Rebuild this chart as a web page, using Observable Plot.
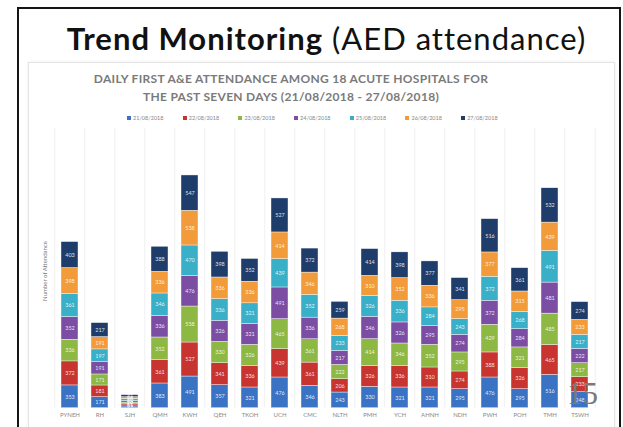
<!DOCTYPE html>
<html>
<head>
<meta charset="utf-8">
<script src="https://cdn.jsdelivr.net/npm/d3@7"></script>
<script src="https://cdn.jsdelivr.net/npm/@observablehq/plot@0.6"></script>
<style>
  html, body { margin: 0; padding: 0; background: #fff; }
  #slide { position: relative; width: 623px; height: 427px; overflow: hidden; background: #fff; font-family: Lato, "Open Sans", sans-serif; }
  #frame { position: absolute; left: 17px; top: 7px; width: 600px; height: 500px; border: 2px solid #151515; }
  #box { position: absolute; left: 28px; top: 62px; width: 585px; height: 420px; border: 1px solid #e4e4e4; box-shadow: 0 0 3px rgba(0,0,0,0.08); }
  #title { position: absolute; left: 0; width: 653px; top: 19px; text-align: center; font-size: 31px; letter-spacing: 1px; color: #111; white-space: nowrap; }
  #title b { font-weight: 700; }
  .ctitle { position: absolute; left: 0; width: 582px; text-align: center; font-size: 12px; font-weight: 700; color: #7a7a7a; letter-spacing: 0.3px; white-space: nowrap; }
  #legend { position: absolute; top: 115px; left: 127px; display: flex; gap: 0; font-size: 5.5px; color: #888; }
  #legend .item { width: 55.7px; display: flex; align-items: center; white-space: nowrap; }
  #legend .sw { width: 4px; height: 4px; margin-right: 2px; }
  #ytitle { position: absolute; left: 44px; top: 271px; transform: translate(-50%, -50%) rotate(-90deg); font-size: 6px; color: #777; white-space: nowrap; }
  #pageno { position: absolute; left: 567px; top: 376px; font-family: "Liberation Serif", serif; font-size: 31px; color: #7a7a7a; }
  #chart { position: absolute; left: 0; top: 0; }
</style>
</head>
<body>
<div id="slide">
  <div id="frame"></div>
  <div id="box"></div>
  <div id="chart"></div>
  <div id="title"><b>Trend Monitoring</b> (AED attendance)</div>
  <div class="ctitle" style="top:71px">DAILY FIRST A&amp;E ATTENDANCE AMONG 18 ACUTE HOSPITALS FOR</div>
  <div class="ctitle" style="top:89px">THE PAST SEVEN DAYS (21/08/2018 - 27/08/2018)</div>
  <div id="legend"></div>
  <div id="ytitle">Number of Attendance</div>
  <div id="pageno">15</div>
</div>
<script>
// Hospitals with an A&E department, in cluster order
const hospitals = ["PYNEH","RH","SJH","QMH","KWH","QEH","TKOH","UCH","CMC","NLTH","PMH","YCH","AHNH","NDH","PWH","POH","TMH","TSWH"];

// Reporting days
const dates = ["21/08/2018","22/08/2018","23/08/2018","24/08/2018","25/08/2018","26/08/2018","27/08/2018"];

// Daily first attendance per hospital, one array per day
const day21 = [353,171,27,383,491,357,321,476,346,243,330,321,321,295,476,295,516,248];
const day22 = [372,181,31,361,527,341,336,439,361,206,326,336,310,274,388,326,465,233];
const day23 = [336,171,29,352,558,330,326,465,361,222,414,346,352,295,429,321,485,217];
const day24 = [352,191,26,336,476,326,321,491,336,217,346,326,295,274,372,284,481,222];
const day25 = [361,197,30,346,470,336,321,439,352,233,326,336,284,243,372,268,491,217];
const day26 = [398,191,28,336,538,336,336,414,346,268,310,352,336,295,377,315,439,233];
const day27 = [403,217,31,388,547,398,352,527,372,259,414,398,377,341,516,361,532,274];

const series = [day21, day22, day23, day24, day25, day26, day27];
const colors = ["#3b73c4","#c8342f","#8db843","#7b4ea3","#3aafc8","#f29b3a","#1f3d6b"];

const rows = [];
dates.forEach((date, i) => {
  hospitals.forEach((h, j) => rows.push({hospital: h, date, value: series[i][j]}));
});

// Legend
const legend = document.getElementById("legend");
dates.forEach((d, i) => {
  const item = document.createElement("div");
  item.className = "item";
  item.innerHTML = `<span class="sw" style="background:${colors[i]}"></span>${d}`;
  legend.appendChild(item);
});

const W = 623, H = 427;
const mLeft = 50, mRight = 25, mTop = 128, mBottom = 19.3;
const yMax = 4335;

// Band geometry, used to put the separators between categories
const band = d3.scaleBand().domain(hospitals).range([mLeft, W - mRight]).paddingInner(0.44).paddingOuter(0.22);
const step = band.step();

const plot = Plot.plot({
  width: W,
  height: H,
  marginLeft: mLeft,
  marginRight: mRight,
  marginTop: mTop,
  marginBottom: mBottom,
  style: {background: "transparent", fontFamily: "Lato, sans-serif"},
  x: {domain: hospitals, paddingInner: 0.44, paddingOuter: 0.22, label: null, tickSize: 0, tickPadding: 5},
  y: {domain: [0, yMax], axis: null},
  color: {domain: dates, range: colors},
  marks: [
    Plot.ruleX(hospitals, {x: d => d, dx: -step / 2, stroke: "#ececec", strokeWidth: 0.8}),
    Plot.ruleX([hospitals[hospitals.length - 1]], {x: d => d, dx: step / 2, stroke: "#ececec", strokeWidth: 0.8}),
    Plot.barY(rows, {x: "hospital", y: "value", fill: "date", z: "date", stroke: "#ffffff", strokeWidth: 0.4}),
    Plot.text(rows, Plot.stackY({x: "hospital", y: "value", z: "date", text: d => d.value, fill: "#ffffff", fillOpacity: 0.85, fontSize: 5.5})),
    Plot.axisX({tickSize: 0, tickPadding: 5, fontSize: 6, color: "#888", label: null})
  ]
});
document.getElementById("chart").appendChild(plot);
</script>
</body>
</html>
